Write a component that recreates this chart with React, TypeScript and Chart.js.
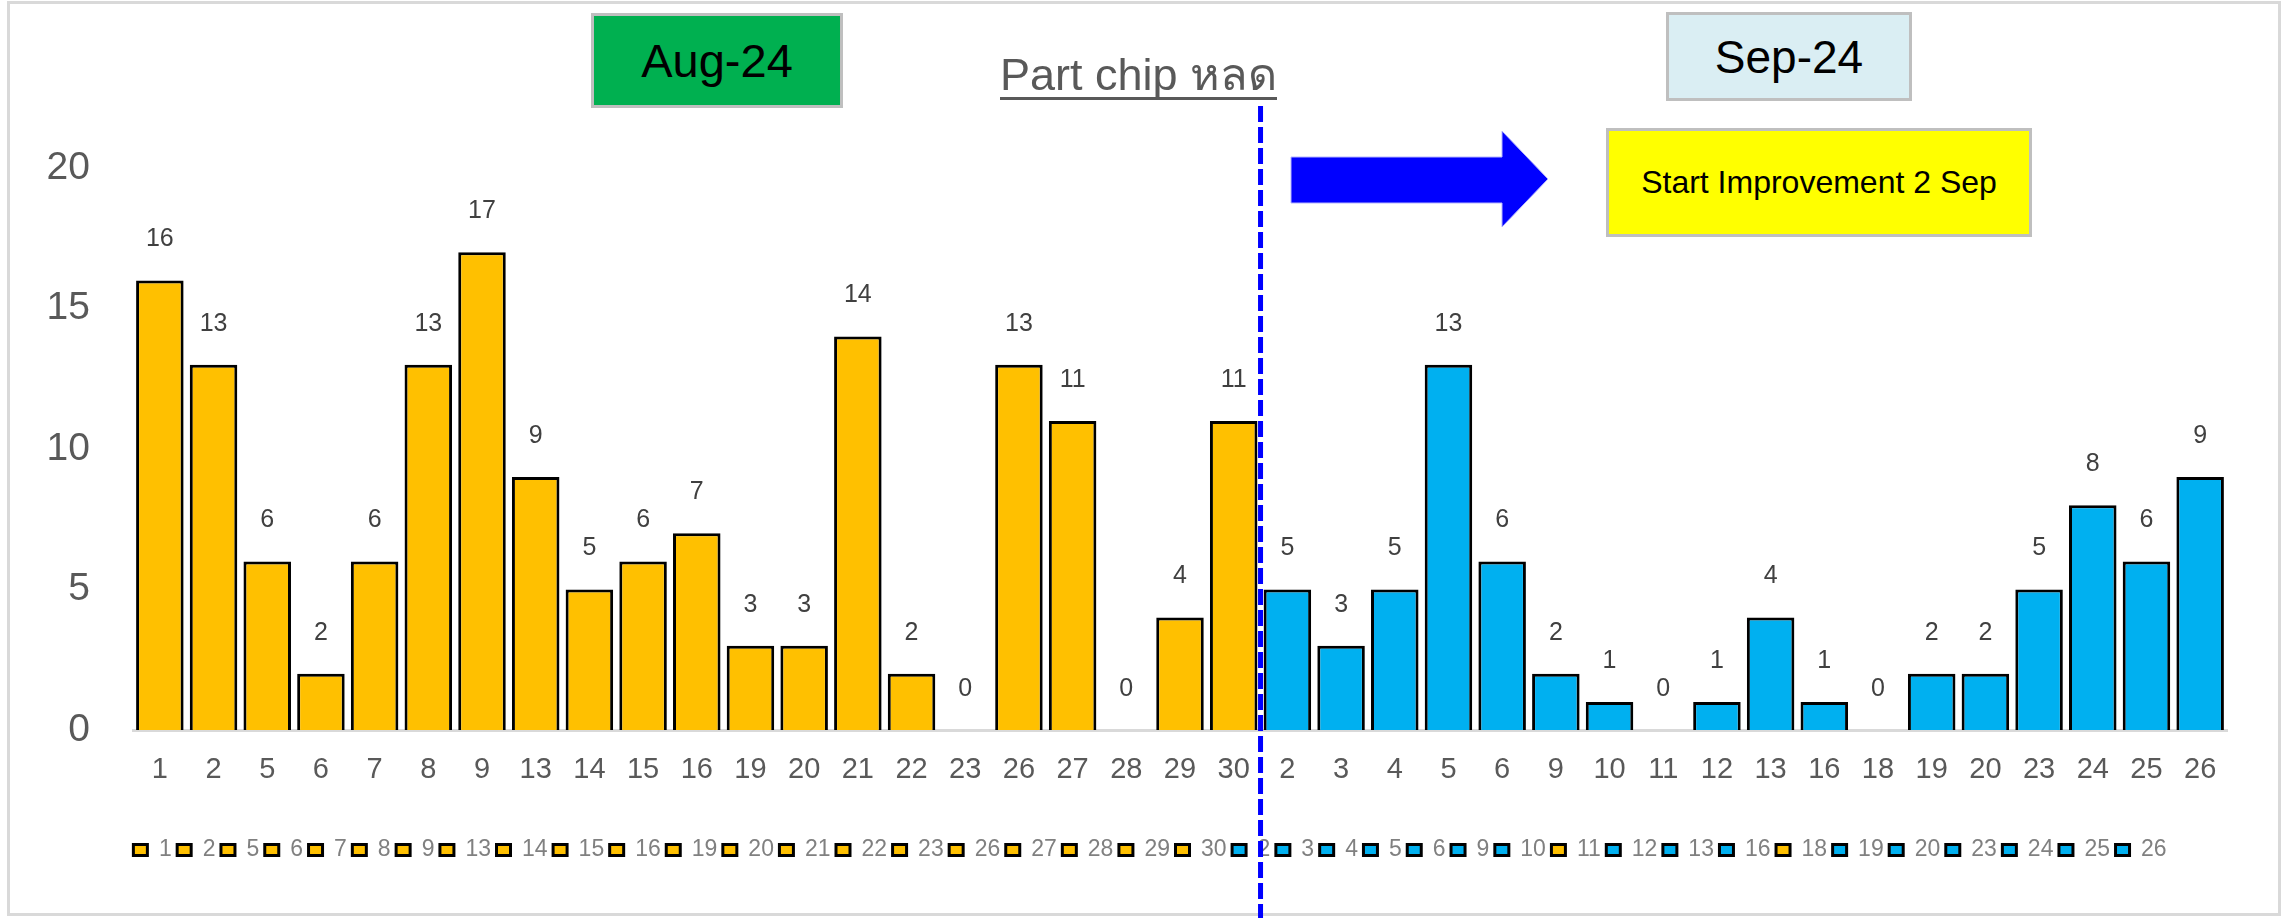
import React, { useEffect, useRef } from 'react';
import { Chart, registerables } from 'chart.js';

Chart.register(...registerables);

// ---- data ----
const augDays = ['1', '2', '5', '6', '7', '8', '9', '13', '14', '15', '16', '19', '20', '21', '22', '23', '26', '27', '28', '29', '30'];
const augValues = [16, 13, 6, 2, 6, 13, 17, 9, 5, 6, 7, 3, 3, 14, 2, 0, 13, 11, 0, 4, 11];
const sepDays = ['2', '3', '4', '5', '6', '9', '10', '11', '12', '13', '16', '18', '19', '20', '23', '24', '25', '26'];
const sepValues = [5, 3, 5, 13, 6, 2, 1, 0, 1, 4, 1, 0, 2, 2, 5, 8, 6, 9];
const sepDaysShownInAugColour = ['11', '18'];
const yTicks = [0, 5, 10, 15, 20];
const monthTitles = ['Aug-24', 'Sep-24'];
const noteText = 'Part chip หลด';
const improvementText = 'Start Improvement 2 Sep';

// ---- styles ----
const AUG_COLOR = '#FFC000';
const SEP_COLOR = '#00B0F0';
const FONT = '"Liberation Sans", Arial, sans-serif';

const labels = [...augDays, ...sepDays];
const values = [...augValues, ...sepValues];
const colors = [
  ...augDays.map(() => AUG_COLOR),
  ...sepDays.map((d) => (sepDaysShownInAugColour.includes(d) ? AUG_COLOR : SEP_COLOR)),
];

const valueLabelsPlugin = {
  id: 'valueLabels',
  afterDatasetsDraw(chart: any) {
    const ctx = chart.ctx;
    const meta = chart.getDatasetMeta(0);
    const data = chart.data.datasets[0].data;
    ctx.save();
    ctx.font = `25px ${FONT}`;
    ctx.fillStyle = '#404040';
    ctx.textAlign = 'center';
    ctx.textBaseline = 'middle';
    meta.data.forEach((el: any, i: number) => {
      ctx.fillText(String(data[i]), el.x, el.y - 41);
    });
    ctx.restore();
  },
};

const splitLinePlugin = {
  id: 'splitLine',
  afterDraw(chart: any) {
    const ctx = chart.ctx;
    const xs = chart.scales.x;
    const px = (xs.getPixelForValue(augDays.length - 1) + xs.getPixelForValue(augDays.length)) / 2;
    ctx.save();
    ctx.strokeStyle = '#0000FF';
    ctx.lineWidth = 5;
    ctx.setLineDash([16, 5]);
    ctx.beginPath();
    ctx.moveTo(px, 106);
    ctx.lineTo(px, chart.height);
    ctx.stroke();
    ctx.restore();
  },
};

function ChartCanvas() {
  const ref = useRef<HTMLCanvasElement | null>(null);
  useEffect(() => {
    if (!ref.current) return;
    const chart = new Chart(ref.current, {
      type: 'bar',
      data: {
        labels,
        datasets: [
          {
            data: values,
            backgroundColor: colors,
            borderColor: '#000000',
            borderWidth: 3,
            categoryPercentage: 1,
            barPercentage: 0.885,
            yAxisID: 'y',
          },
        ],
      },
      options: {
        animation: false,
        responsive: false,
        devicePixelRatio: 1,
        layout: { padding: { left: 40, right: 25, top: 168, bottom: 46.5 } },
        plugins: {
          tooltip: { enabled: false },
          legend: {
            display: true,
            position: 'bottom',
            align: 'center',
            labels: {
              boxWidth: 14,
              boxHeight: 11,
              padding: 5.5,
              color: '#808080',
              font: { family: FONT, size: 23 },
              generateLabels: () =>
                labels.map((t, i) => ({
                  text: t,
                  fillStyle: colors[i],
                  strokeStyle: '#000000',
                  lineWidth: 3,
                  hidden: false,
                  index: i,
                  datasetIndex: 0,
                  fontColor: '#808080',
                })),
            },
          },
        },
        scales: {
          x: {
            grid: { display: false, drawTicks: false },
            border: { display: true, color: '#D9D9D9', width: 3 },
            ticks: {
              autoSkip: false,
              maxRotation: 0,
              padding: 23,
              color: '#595959',
              font: { family: FONT, size: 29 },
            },
            afterFit: (s: any) => {
              s.height = 103;
            },
          },
          y: {
            position: 'left',
            min: 0,
            max: 20,
            grid: { display: false, drawTicks: false },
            border: { display: false },
            ticks: {
              padding: 43,
              color: '#595959',
              font: { family: FONT, size: 39 },
            },
            afterBuildTicks: (s: any) => {
              s.ticks = yTicks.map((v) => ({ value: v }));
            },
            afterFit: (s: any) => {
              s.width = 93;
            },
          },
          yRight: {
            position: 'right',
            display: true,
            min: 0,
            max: 20,
            grid: { display: false, drawTicks: false },
            border: { display: false },
            ticks: { display: false },
            afterFit: (s: any) => {
              s.width = 33;
            },
          },
        },
      },
      plugins: [valueLabelsPlugin, splitLinePlugin],
    });
    return () => chart.destroy();
  }, []);
  return <canvas ref={ref} width={2285} height={918} style={{ position: 'absolute', left: 0, top: 0 }} />;
}

const boxBase: React.CSSProperties = {
  position: 'absolute',
  boxSizing: 'border-box',
  border: '3px solid #BFBFBF',
  display: 'flex',
  alignItems: 'center',
  justifyContent: 'center',
  fontFamily: FONT,
  color: '#000000',
};

export default function App() {
  useEffect(() => {
    document.body.style.overflow = 'hidden';
  }, []);
  return (
    <div style={{ position: 'absolute', left: 0, top: 0, width: 2285, height: 918, background: '#FFFFFF', overflow: 'hidden' }}>
      <div
        style={{
          position: 'absolute',
          left: 7,
          top: 1,
          width: 2274,
          height: 915,
          boxSizing: 'border-box',
          border: '3px solid #D9D9D9',
        }}
      />
      <ChartCanvas />
      <div style={{ ...boxBase, left: 591, top: 13, width: 252, height: 95, background: '#00B050', fontSize: 47 }}>
        {monthTitles[0]}
      </div>
      <div style={{ ...boxBase, left: 1666, top: 12, width: 246, height: 89, background: '#DAEEF3', fontSize: 46 }}>
        {monthTitles[1]}
      </div>
      <div
        style={{
          position: 'absolute',
          left: 1000,
          top: 52,
          fontFamily: FONT,
          fontSize: 45,
          lineHeight: '45px',
          color: '#595959',
          borderBottom: '3px solid #595959',
          whiteSpace: 'nowrap',
        }}
      >
        {noteText}
      </div>
      <svg style={{ position: 'absolute', left: 1288, top: 128 }} width={264} height={102}>
        <polygon points="3,29 214,29 214,3 260,51 214,99 214,75 3,75" fill="#0000FF" stroke="#B4B4FF" strokeWidth={1} />
      </svg>
      <div style={{ ...boxBase, left: 1606, top: 128, width: 426, height: 109, background: '#FFFF00', fontSize: 32 }}>
        {improvementText}
      </div>
    </div>
  );
}
